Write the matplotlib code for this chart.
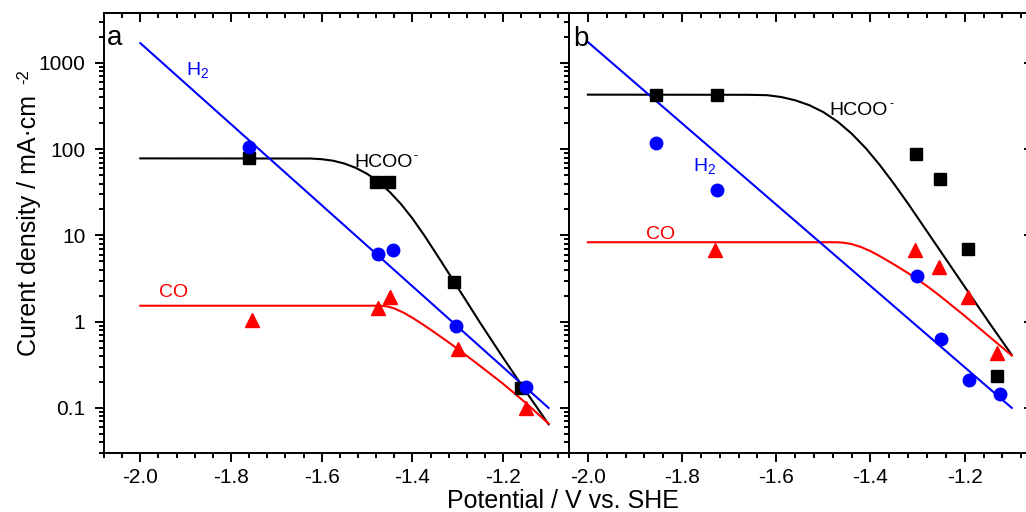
import matplotlib
matplotlib.use("Agg")
import matplotlib.pyplot as plt
from matplotlib.ticker import MultipleLocator, FormatStrFormatter, FuncFormatter, LogLocator, NullFormatter

plt.rcParams['font.family'] = ['Liberation Sans', 'DejaVu Sans']
plt.rcParams['mathtext.fontset'] = 'custom'
plt.rcParams['mathtext.rm'] = 'Liberation Sans'
plt.rcParams['mathtext.it'] = 'Liberation Sans:italic'
plt.rcParams['mathtext.bf'] = 'Liberation Sans:bold'
plt.rcParams['axes.unicode_minus'] = False

# ---- panel a: measured partial current densities (mA/cm2) vs potential (V) ----
hcoo_a_E = [-1.76, -1.48, -1.451, -1.308, -1.16]
hcoo_a_j = [80, 42, 42, 2.9, 0.17]
h2_a_E = [-1.76, -1.477, -1.444, -1.303, -1.149]
h2_a_j = [105, 6.1, 6.8, 0.89, 0.175]
co_a_E = [-1.753, -1.475, -1.45, -1.30, -1.149]
co_a_j = [1.06, 1.46, 1.94, 0.48, 0.10]

# panel a: fitted curves
hcoo_a_fit_E = [-2.0, -1.625, -1.60, -1.575, -1.55, -1.525, -1.50, -1.475, -1.45, -1.425,
                -1.40, -1.375, -1.35, -1.325, -1.30, -1.25, -1.20, -1.15, -1.10]
hcoo_a_fit_j = [78.3, 78.0, 76.6, 73.6, 68.2, 60.8, 51.8, 41.9, 31.9, 23.0,
                15.7, 10.2, 6.41, 4.0, 2.48, 0.955, 0.380, 0.155, 0.0646]
h2_a_fit_E = [-2.0, -1.10]
h2_a_fit_j = [1700, 0.10]
co_a_fit_E = [-2.0, -1.47, -1.455, -1.44, -1.42, -1.40, -1.375, -1.35, -1.325, -1.30,
              -1.25, -1.20, -1.15, -1.10]
co_a_fit_j = [1.531, 1.531, 1.50, 1.424, 1.275, 1.11, 0.913, 0.742, 0.600, 0.482,
              0.304, 0.190, 0.114, 0.0658]

# ---- panel b: measured partial current densities ----
hcoo_b_E = [-1.856, -1.726, -1.304, -1.253, -1.194, -1.132]
hcoo_b_j = [426, 430, 88, 45, 7.0, 0.235]
h2_b_E = [-1.856, -1.726, -1.302, -1.251, -1.19, -1.126]
h2_b_j = [118, 34, 3.4, 0.63, 0.21, 0.145]
co_b_E = [-1.73, -1.306, -1.255, -1.192, -1.132]
co_b_j = [6.7, 6.7, 4.25, 1.91, 0.43]

# panel b: fitted curves
hcoo_b_fit_E = [-2.0, -1.66, -1.62, -1.59, -1.56, -1.53, -1.50, -1.47, -1.44, -1.41,
                -1.38, -1.35, -1.32, -1.29, -1.25, -1.20, -1.15, -1.10]
hcoo_b_fit_j = [429.5, 427.6, 423.6, 403.6, 369.8, 324.3, 269.2, 209.4, 151.7, 102.8,
                65.3, 39.6, 23.3, 13.4, 6.40, 2.54, 1.01, 0.411]
h2_b_fit_E = [-2.0, -1.10]
h2_b_fit_j = [1750, 0.10]
co_b_fit_E = [-2.0, -1.47, -1.455, -1.44, -1.42, -1.40, -1.38, -1.35, -1.32, -1.30,
              -1.275, -1.25, -1.20, -1.15, -1.10]
co_b_fit_j = [8.34, 8.34, 8.22, 7.94, 7.34, 6.58, 5.75, 4.61, 3.65, 3.09,
              2.47, 1.94, 1.168, 0.688, 0.405]

BLUE = '#0000ff'
RED = '#ff0000'
BLACK = '#000000'

W, H = 1026, 512
fig = plt.figure(figsize=(W / 100, H / 100), dpi=100)
axA = fig.add_axes([104 / W, 59 / H, 465 / W, 440 / H])
axB = fig.add_axes([569 / W, 59 / H, 464 / W, 440 / H])

LW = 1.4
TICK_FS = 15
LBL_FS = 14


def draw_panel(ax, hE, hj, h2E, h2j, coE, coj, hfE, hfj, h2fE, h2fj, cofE, cofj):
    ax.plot(hfE, hfj, color=BLACK, lw=1.5, zorder=2, solid_joinstyle='round')
    ax.plot(cofE, cofj, color=RED, lw=1.5, zorder=2, solid_joinstyle='round')
    ax.plot(h2fE, h2fj, color=BLUE, lw=1.5, zorder=2)
    ax.plot(hE, hj, ls='none', marker='s', ms=8, color=BLACK, zorder=3)
    ax.plot(h2E, h2j, ls='none', marker='o', ms=9, color=BLUE, zorder=3)
    ax.plot(coE, coj, ls='none', marker='^', ms=10, color=RED, zorder=3)


draw_panel(axA, hcoo_a_E, hcoo_a_j, h2_a_E, h2_a_j, co_a_E, co_a_j,
           hcoo_a_fit_E, hcoo_a_fit_j, h2_a_fit_E, h2_a_fit_j, co_a_fit_E, co_a_fit_j)
draw_panel(axB, hcoo_b_E, hcoo_b_j, h2_b_E, h2_b_j, co_b_E, co_b_j,
           hcoo_b_fit_E, hcoo_b_fit_j, h2_b_fit_E, h2_b_fit_j, co_b_fit_E, co_b_fit_j)

axA.set_xlim(-2.08, -1.055)
axB.set_xlim(-2.04, -1.055)

for ax in (axA, axB):
    ax.set_yscale('log')
    ax.set_ylim(0.030, 3800)
    for s in ax.spines.values():
        s.set_linewidth(LW)
    ax.xaxis.set_major_locator(MultipleLocator(0.2))
    ax.xaxis.set_minor_locator(MultipleLocator(0.04))
    ax.xaxis.set_major_formatter(FormatStrFormatter('%.1f'))
    ax.yaxis.set_major_locator(LogLocator(base=10))
    ax.yaxis.set_minor_locator(LogLocator(base=10, subs=range(2, 10)))
    ax.yaxis.set_minor_formatter(NullFormatter())
    ax.yaxis.set_major_formatter(FuncFormatter(lambda v, p: '%g' % v))
    ax.tick_params(axis='both', which='major', direction='out', length=6.5, width=LW,
                   labelsize=TICK_FS, top=False, right=False)
    ax.tick_params(axis='both', which='minor', direction='out', length=3.6, width=LW,
                   top=False, right=False)
    ax.tick_params(axis='x', which='major', pad=4)
    ax.tick_params(axis='y', which='major', pad=7)

    # inward ticks on the top edge
    top = ax.secondary_xaxis('top')
    top.xaxis.set_major_locator(MultipleLocator(0.2))
    top.xaxis.set_minor_locator(MultipleLocator(0.04))
    top.tick_params(which='major', direction='in', length=6.5, width=LW, labeltop=False)
    top.tick_params(which='minor', direction='in', length=3.6, width=LW)
    top.spines['top'].set_linewidth(LW)

    # inward ticks on the right edge
    rgt = ax.secondary_yaxis('right')
    rgt.yaxis.set_major_locator(LogLocator(base=10))
    rgt.yaxis.set_minor_locator(LogLocator(base=10, subs=range(2, 10)))
    rgt.yaxis.set_minor_formatter(NullFormatter())
    rgt.tick_params(which='major', direction='in', length=6.5, width=LW, labelright=False)
    rgt.tick_params(which='minor', direction='in', length=3.6, width=LW)
    rgt.spines['right'].set_linewidth(LW)

axB.tick_params(axis='y', which='both', left=False, labelleft=False)


def formate_label(ax, x, y):
    t = ax.text(x, y, 'HCOO', color=BLACK, fontsize=LBL_FS, va='baseline')
    ax.annotate('-', xy=(1, 0), xycoords=t, xytext=(0.8, 8.8), textcoords='offset points',
                fontsize=9, color=BLACK, ha='left', va='baseline')


# curve labels
axA.text(-1.899, 727, r'H$_{\mathregular{2}}$', color=BLUE, fontsize=LBL_FS, va='baseline')
formate_label(axA, -1.528, 62)
axA.text(-1.958, 1.94, 'CO', color=RED, fontsize=LBL_FS, va='baseline')
formate_label(axB, -1.4865, 249)
axB.text(-1.777, 56, r'H$_{\mathregular{2}}$', color=BLUE, fontsize=LBL_FS, va='baseline')
axB.text(-1.877, 9.1, 'CO', color=RED, fontsize=LBL_FS, va='baseline')

# panel letters
axA.text(0.006, 0.927, 'a', transform=axA.transAxes, fontsize=20, va='baseline')
axB.text(0.009, 0.925, 'b', transform=axB.transAxes, fontsize=20, va='baseline')

# axis titles
fig.text(563 / W, 4 / H, 'Potential / V vs. SHE', fontsize=18, ha='center', va='baseline')
fig.text(29.5 / W, 1 - 225 / H, 'Curent density / mA·cm', fontsize=18,
         rotation=90, ha='center', va='center')
fig.text(24 / W, 1 - 77 / H, '-2', fontsize=12, rotation=90, ha='center', va='center')

fig.savefig('out.png', dpi=100)
